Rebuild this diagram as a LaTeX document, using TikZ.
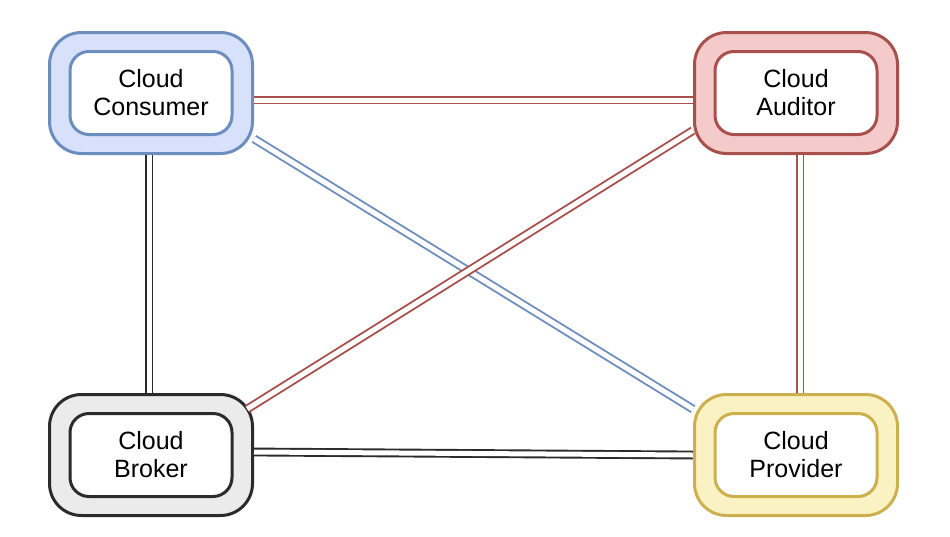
\documentclass[tikz,border=0pt]{standalone}
\usepackage{fontspec}
\setmainfont{Liberation Sans}
\usepackage{tikz}
\usetikzlibrary{positioning}

\definecolor{consfill}{HTML}{D7E1F9}
\definecolor{consline}{HTML}{6C8EBF}
\definecolor{audfill}{HTML}{F4CBCA}
\definecolor{audline}{HTML}{A9504C}
\definecolor{brkfill}{HTML}{EBEBEB}
\definecolor{brkline}{HTML}{2B2B2B}
\definecolor{provfill}{HTML}{FBF2C4}
\definecolor{provline}{HTML}{CDB04E}

\begin{document}
\begin{tikzpicture}[x=1pt,y=-1pt]
\tikzstyle{ring}=[draw, line width=3pt, rounded corners=32pt, minimum width=203pt, minimum height=121pt, inner sep=0pt]
\tikzstyle{core}=[draw, fill=white, line width=3pt, rounded corners=19pt, minimum width=162pt, minimum height=83pt, inner sep=0pt, align=center, font=\fontsize{25}{28}\selectfont]
\tikzstyle{link}=[line width=1.9pt, double=white, double distance=5pt]
\useasboundingbox (0,0) rectangle (950,536);
\node [ring, draw=consline, fill=consfill] (cons) at (151,93) {};
\node [core, draw=consline] (consin) at (cons) {Cloud\\Consumer};
\node [ring, draw=audline, fill=audfill] (aud) at (796,93) {};
\node [core, draw=audline] (audin) at (aud) {Cloud\\Auditor};
\node [ring, draw=brkline, fill=brkfill] (brk) at (151,455) {};
\node [core, draw=brkline] (brkin) at (brk) {Cloud\\Broker};
\node [ring, draw=provline, fill=provfill] (prov) at (796,455) {};
\node [core, draw=provline] (provin) at (prov) {Cloud\\Provider};
\draw [link, brkline] ([xshift=-2pt]cons.south) -- ([xshift=-2pt]brk.north);
\draw [link, brkline] ([yshift=3pt]brk.east) -- (prov.west);
\draw [link, audline] ([yshift=-7pt]cons.east) -- ([yshift=-7pt]aud.west);
\draw [link, audline] ([xshift=4pt]aud.south) -- ([xshift=4pt]prov.north);
\draw [link, consline] (cons.-24) -- (prov.156);
\draw [link, audline, shorten >=-8pt] (aud.200) -- (brk.26);
\end{tikzpicture}
\end{document}
